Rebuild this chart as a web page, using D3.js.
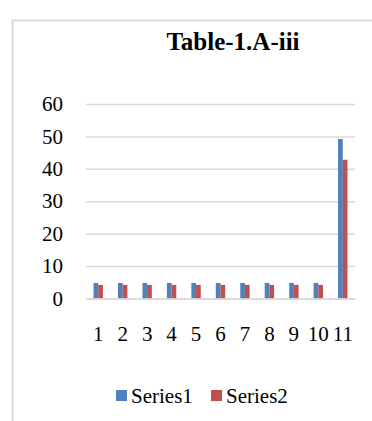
<!DOCTYPE html>
<html><head><meta charset="utf-8"><script src="https://cdn.jsdelivr.net/npm/d3@7"></script></head>
<body style="margin:0">
<script>
// Chart data
const categories = ["1", "2", "3", "4", "5", "6", "7", "8", "9", "10", "11"];
const seriesNames = ["Series1", "Series2"];
const series1 = [4.8, 4.8, 4.8, 4.8, 4.8, 4.8, 4.8, 4.8, 4.8, 4.8, 49.2];
const series2 = [4.2, 4.2, 4.2, 4.2, 4.2, 4.2, 4.2, 4.2, 4.2, 4.2, 42.8];
const yTicks = [0, 10, 20, 30, 40, 50, 60];
const colors = ["#4f81bd", "#c0504d"];
const title = "Table-1.A-iii";

const W = 372, H = 421;
const plot = { left: 86, right: 355, top: 104, bottom: 298.5 };
const FONT = 'Tinos, "Times New Roman", serif';

const svg = d3.select("body").append("svg")
  .attr("width", W).attr("height", H);

// Chart area frame
svg.append("rect")
  .attr("x", 12.5).attr("y", 20.5)
  .attr("width", 420).attr("height", 460)
  .attr("fill", "#fff")
  .attr("stroke", "#d9d9d9")
  .attr("stroke-width", 2);

// Title
svg.append("text")
  .attr("x", 233).attr("y", 50)
  .attr("text-anchor", "middle")
  .style("font-family", FONT)
  .style("font-weight", "bold")
  .style("font-size", "25px")
  .attr("fill", "#000")
  .text(title);

const x0 = d3.scaleBand().domain(categories)
  .range([plot.left, plot.right]).padding(0);
const x1 = d3.scaleBand().domain(seriesNames)
  .range([0, x0.bandwidth()]).paddingInner(0).paddingOuter(1.6);
const y = d3.scaleLinear().domain([0, 60]).range([plot.bottom, plot.top]);

// Gridlines and value labels
const yAxis = d3.axisLeft(y).tickValues(yTicks)
  .tickSize(-(plot.right - plot.left)).tickPadding(23);
const gy = svg.append("g")
  .attr("transform", `translate(${plot.left},0)`)
  .call(yAxis);
gy.attr("font-family", null).attr("font-size", null);
gy.select(".domain").remove();
gy.selectAll(".tick line").attr("stroke", "#d9d9d9").attr("stroke-width", 1.5);
gy.selectAll(".tick text")
  .style("font-family", FONT).style("font-size", "21px").attr("fill", "#000");

// Bars
const data = categories.map((c, i) => ({ c, vals: [series1[i], series2[i]] }));
const groups = svg.append("g").selectAll("g").data(data).join("g")
  .attr("transform", d => `translate(${x0(d.c)},0)`);
groups.selectAll("rect")
  .data(d => d.vals.map((v, j) => ({ key: seriesNames[j], v, j })))
  .join("rect")
  .attr("x", d => x1(d.key))
  .attr("width", x1.bandwidth())
  .attr("y", d => y(d.v))
  .attr("height", d => y(0) - y(d.v))
  .attr("fill", d => colors[d.j]);

// Category axis
const xAxis = d3.axisBottom(x0).tickSize(0).tickPadding(28);
const gx = svg.append("g")
  .attr("transform", `translate(0,${plot.bottom})`)
  .call(xAxis);
gx.attr("font-family", null).attr("font-size", null);
gx.select(".domain").attr("stroke", "#d9d9d9").attr("stroke-width", 1.5);
gx.selectAll(".tick text")
  .style("font-family", FONT).style("font-size", "21px").attr("fill", "#000");

// Legend
const legendX = [116, 211];
const legend = svg.append("g").selectAll("g").data(seriesNames).join("g")
  .attr("transform", (d, i) => `translate(${legendX[i]},390)`);
legend.append("rect")
  .attr("width", 11).attr("height", 11)
  .attr("fill", (d, i) => colors[i]);
legend.append("text")
  .attr("x", 15).attr("y", 13)
  .style("font-family", FONT).style("font-size", "21px").attr("fill", "#000")
  .text(d => d);
</script></body></html>
